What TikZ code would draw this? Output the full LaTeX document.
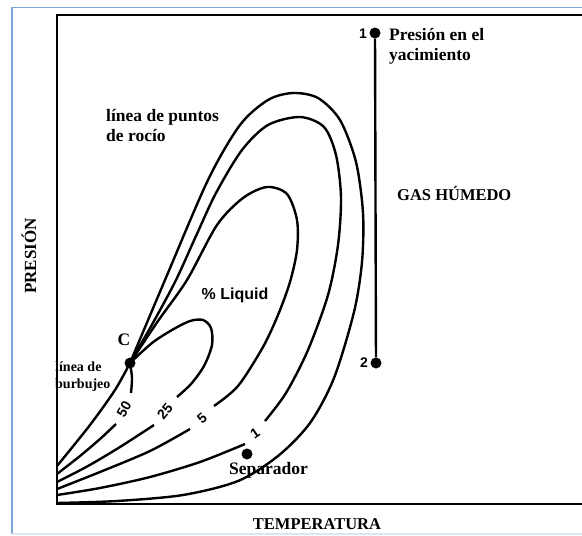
\documentclass[tikz,border=0pt]{standalone}
\usepackage{fontspec}
\setmainfont{Liberation Serif}
\newfontfamily\sansf{Liberation Sans}
\begin{document}
\begin{tikzpicture}[x=1pt,y=-1pt,
  curve/.style={line width=2.4pt, smooth, tension=0.5},
  lbl/.style={inner sep=0pt, font=\bfseries\fontsize{17.5}{20}\selectfont, align=left},
  numlbl/.style={inner sep=0pt, font=\sansf\bfseries\fontsize{14}{14}\selectfont},
  dot/.style={circle, fill=black, inner sep=0pt, minimum size=11pt}]
\definecolor{framec}{HTML}{7EA6D8}
\definecolor{framelight}{HTML}{DCE6F2}
\useasboundingbox (0,0) rectangle (582,536);
% outer frame
\draw[framec, line width=1.6pt] (582,7.5) -- (12,7.5) -- (12,534);
\draw[framelight, line width=1.2pt] (12,534) -- (582,534);
% bubble-line labels (partly under the box line)
\node[lbl, anchor=west, font=\bfseries\fontsize{14}{17}\selectfont] (burb) at (55,377) {línea de\\burbujeo};
% inner box
\draw[line width=2.6pt] (582,15) -- (57,15) -- (57,504) -- (582,504);
% bubble line
\draw[curve] plot coordinates {(130,363) (115,390) (90,425) (57,466)};
% 50
\draw[curve] plot coordinates {(130,363) (132,378) (131,393)};
\draw[curve] plot coordinates {(116,424) (100,439) (80,456) (57,474)};
% 25
\draw[curve] plot coordinates {(130,363) (152,343) (172,330) (190,321) (203,320) (211,328) (212,345) (204,366) (191,384) (177,397)};
\draw[curve] plot coordinates {(154,425) (120,447) (88,466) (57,482)};
% 5
\draw[curve] plot coordinates {(130,363) (158,321) (187,280) (217,225) (243,198) (267,187) (287,194) (297,220) (297,250) (290,282) (278,315) (263,347) (238,386) (214,406)};
\draw[curve] plot coordinates {(190,429) (150,451) (100,472) (57,489)};
% 1
\draw[curve] plot coordinates {(130,363) (154,321) (176,280) (196,236) (216,193) (242,150) (268,125) (300,117) (324,127) (336,155) (341,197) (338,245) (328,295) (308,350) (286,393) (265,421)};
\draw[curve] plot coordinates {(245,444) (200,462) (150,477) (100,488) (57,495)};
% dew line
\draw[curve] plot coordinates {(130,363) (165,280) (208,180) (240,125) (268,100) (293,93) (318,98) (340,120) (356,162) (363,213) (362,262) (354,312) (334,378) (310,423) (278,456) (238,481) (183,495) (117,501) (57,503)};
% curve labels
\node[numlbl, rotate=60] (l50) at (124,409) {50};
\node[numlbl, rotate=50] (l25) at (165,411) {25};
\node[numlbl, rotate=40] (l5) at (202,418) {5};
\node[numlbl, rotate=35] (l1) at (255,433) {1};
% points
\node[dot] (c) at (130,363) {};
\node[lbl] (clbl) at (124,340) {C};
\node[dot] (sep) at (247,454) {};
\node[lbl, anchor=west] (seplbl) at (229,470) {Separador};
\node[dot] (p1) at (375,33) {};
\node[dot] (p2) at (376,363) {};
\draw[line width=2.4pt] (p1) -- (p2);
\node[numlbl] (n1) at (363,34) {1};
\node[numlbl] (n2) at (364,363) {2};
% texts
\node[lbl, anchor=west] (pres) at (389,46) {Presión en el\\yacimiento};
\node[lbl, anchor=west] (rocio) at (106,126) {línea de puntos\\de rocío};
\node[lbl, anchor=west, font=\bfseries\fontsize{16.5}{20}\selectfont] (gas) at (397,193) {GAS HÚMEDO};
\node[lbl, font=\sansf\bfseries\fontsize{16}{18}\selectfont] (liq) at (235,295) {\% Liquid};
\node[lbl, font=\bfseries\fontsize{16.5}{20}\selectfont] (temp) at (317,524) {TEMPERATURA};
\node[lbl, rotate=90, font=\bfseries\fontsize{17}{20}\selectfont] (presion) at (29,256) {PRESIÓN};
\end{tikzpicture}
\end{document}
